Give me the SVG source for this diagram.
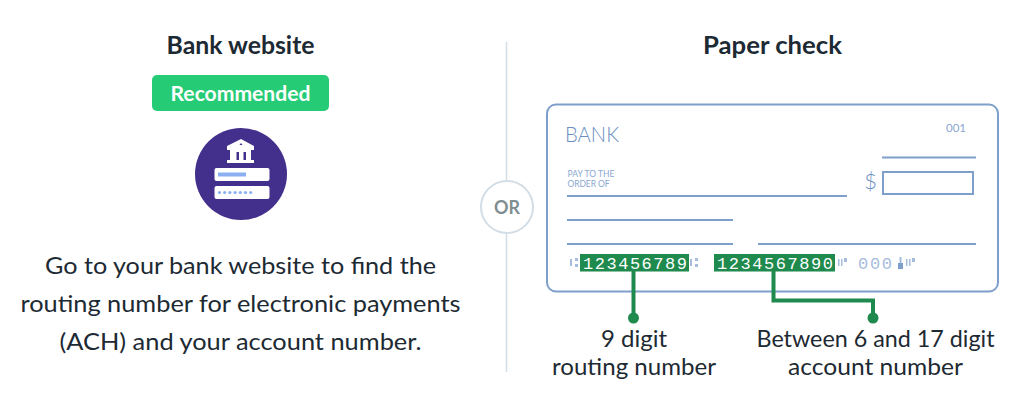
<svg xmlns="http://www.w3.org/2000/svg" width="1019" height="410" viewBox="0 0 1019 410">
<style>
text{font-family:Lato,"Noto Sans",sans-serif}
.h{font-size:24px;font-weight:700;fill:#1d2a33;text-anchor:middle}
.b{font-size:23px;fill:#1d2a33;text-anchor:middle}
.l{font-size:23px;fill:#1d2a33;text-anchor:middle}
.c{font-weight:300;fill:#6c90c4}
.s{font-weight:400;fill:#8aa7d0}
.ln{stroke:#7f9fcb;stroke-width:2;fill:none}
.m{font-family:"Liberation Mono",monospace;font-size:17px;fill:#fff}
.mb{font-family:"Liberation Mono",monospace;font-size:17px;fill:#a6bcdd}
.g{stroke:#1e8a4d;stroke-width:4;fill:none}
.d{fill:#1e8a4d}
.p{fill:#8ab0f2}
.t{fill:#a6bcdd}
</style>
<rect width="1019" height="410" fill="#fff"/>
<g id="website">
<text class="h" x="240.500" y="54" textLength="148" lengthAdjust="spacingAndGlyphs">Bank website</text>
<rect x="152" y="75" width="177" height="36" rx="5" fill="#26cb75"/>
<text x="240.500" y="101" font-size="20" font-weight="700" fill="#fff" text-anchor="middle" textLength="140" lengthAdjust="spacingAndGlyphs">Recommended</text>
<circle cx="241" cy="174" r="46" fill="#432f8c"/>
<path fill="#fff" d="M241 139l13 7v4h-3v10h3v3h-27v-3h3v-10h-3v-4zM239.500 145h3l-1.500-2zM236.500 152v8h2.500v-8zM243.500 152v8h2.500v-8z" fill-rule="evenodd"/>
<rect x="214.500" y="168" width="55" height="13" rx="2" fill="#fff"/>
<rect x="218" y="172.500" width="28" height="4" fill="#8ab0f2"/>
<rect x="214.500" y="186" width="55" height="13" rx="2" fill="#fff"/>
<g class="p"><circle cx="219.500" cy="192.500" r="1.600"/><circle cx="224.700" cy="192.500" r="1.600"/><circle cx="229.900" cy="192.500" r="1.600"/><circle cx="235.100" cy="192.500" r="1.600"/><circle cx="240.300" cy="192.500" r="1.600"/><circle cx="245.500" cy="192.500" r="1.600"/><circle cx="250.700" cy="192.500" r="1.600"/></g>
<text class="b" x="240.500" y="274" textLength="391" lengthAdjust="spacingAndGlyphs">Go to your bank website to find the</text>
<text class="b" x="240.500" y="312" textLength="440" lengthAdjust="spacingAndGlyphs">routing number for electronic payments</text>
<text class="b" x="240.500" y="350" textLength="362" lengthAdjust="spacingAndGlyphs">(ACH) and your account number.</text>
</g>
<g id="divider">
<line x1="506.500" y1="42" x2="506.500" y2="372" stroke="#d3dde5" stroke-width="1.500"/>
<circle cx="507" cy="207" r="26" fill="#fff" stroke="#d3dde5" stroke-width="2"/>
<text x="507" y="213.500" font-size="18" font-weight="700" fill="#7f8f91" text-anchor="middle" textLength="26" lengthAdjust="spacingAndGlyphs">OR</text>
</g>
<g id="check">
<text class="h" x="772.500" y="54" textLength="139" lengthAdjust="spacingAndGlyphs">Paper check</text>
<rect x="547" y="104.500" width="451" height="187" rx="9" fill="#fff" class="ln"/>
<text class="c" x="565" y="142" font-size="21" textLength="54" lengthAdjust="spacingAndGlyphs">BANK</text>
<text class="s" x="946" y="132" font-size="11.500" textLength="20" lengthAdjust="spacingAndGlyphs">001</text>
<text class="s" x="567.500" y="177" font-size="8.500" textLength="47">PAY TO THE</text>
<text class="s" x="567.500" y="186.500" font-size="8.500" textLength="42">ORDER OF</text>
<line class="ln" x1="567" y1="196" x2="847" y2="196"/>
<line class="ln" x1="567" y1="220" x2="733" y2="220"/>
<line class="ln" x1="567" y1="244" x2="733" y2="244"/>
<line class="ln" x1="758" y1="244" x2="976" y2="244"/>
<line class="ln" x1="882" y1="157.500" x2="976" y2="157.500"/>
<rect class="ln" x="883" y="172" width="90" height="22"/>
<text class="c" x="864" y="189" font-size="22" textLength="13" lengthAdjust="spacingAndGlyphs">$</text>
<rect class="t" x="570" y="259" width="2" height="7"/><rect class="t" x="575" y="258" width="3" height="3"/><rect class="t" x="575" y="264" width="3" height="3"/>
<rect x="580" y="254" width="109" height="17.500" fill="#1e8a4d"/>
<text class="m" x="583" y="268.500" textLength="104">123456789</text>
<rect class="t" x="690" y="259" width="2" height="7"/><rect class="t" x="695" y="258" width="3" height="3"/><rect class="t" x="695" y="264" width="3" height="3"/>
<rect x="714" y="254" width="121" height="17.500" fill="#1e8a4d"/>
<text class="m" x="717" y="268.500" textLength="116">1234567890</text>
<rect class="t" x="838" y="259" width="1.500" height="7"/><rect class="t" x="841" y="259" width="1.500" height="7"/><rect class="t" x="844" y="258" width="3" height="4"/>
<text class="mb" x="858" y="268.500" textLength="34">000</text>
<rect x="898" y="263" width="5" height="6" fill="#7f9fcb"/><rect class="t" x="899.500" y="257" width="2" height="6"/>
<rect class="t" x="906" y="259" width="1.500" height="7"/><rect class="t" x="909" y="259" width="1.500" height="7"/><rect class="t" x="912" y="258" width="3" height="4"/>
</g>
<g id="connectors">
<path class="g" d="M633.500 271V318"/>
<circle class="d" cx="633.500" cy="318" r="5.500"/>
<path class="g" d="M773.500 271V300.500H873V318"/>
<circle class="d" cx="873" cy="318" r="5.500"/>
</g>
<g id="labels">
<text class="l" x="634" y="347" textLength="66" lengthAdjust="spacingAndGlyphs">9 digit</text>
<text class="l" x="634" y="375" textLength="164" lengthAdjust="spacingAndGlyphs">routing number</text>
<text class="l" x="875.500" y="347" textLength="238" lengthAdjust="spacingAndGlyphs">Between 6 and 17 digit</text>
<text class="l" x="875.500" y="375" textLength="175" lengthAdjust="spacingAndGlyphs">account number</text>
</g>
</svg>
